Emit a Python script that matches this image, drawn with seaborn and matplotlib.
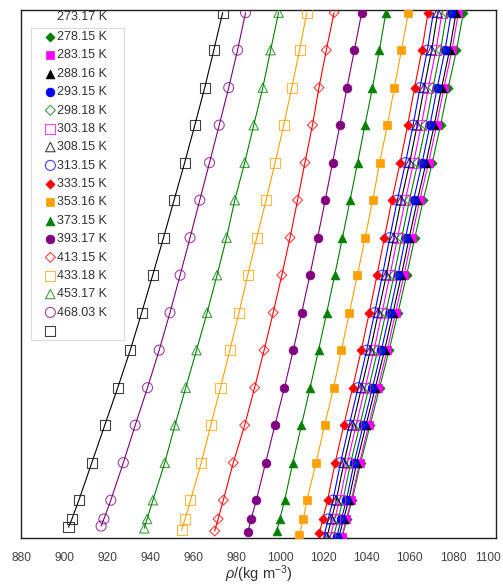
import matplotlib
matplotlib.use("Agg")
import matplotlib.pyplot as plt
import matplotlib.transforms as mtrans
import seaborn as sns
import pandas as pd

# ---------------- data ----------------
temps = ["273.17 K", "278.15 K", "283.15 K", "288.16 K", "293.15 K", "298.18 K",
         "303.18 K", "308.15 K", "313.15 K", "333.15 K", "353.16 K", "373.15 K",
         "393.17 K", "413.15 K", "433.18 K", "453.17 K", "468.03 K"]

# common pressure grid (MPa) above the lowest point of each isotherm
p_grid = [5, 10, 20, 30, 40, 50, 60, 70, 80, 90, 100, 110, 120, 130, 140]
# lowest pressure of each isotherm (MPa)
p_low = [0.1, 0.1, 0.1, 0.1, 0.1, 0.1, 0.1, 0.1, 1.2, 0.7, 1.8, 1.6,
         1.8, 2.0, 2.5, 3.1, 2.8]

rho_27317 = [1028.7, 1031.0, 1033.4, 1037.3, 1041.7, 1046.1, 1050.5, 1054.6, 1058.6, 1062.4, 1066.3, 1070.5, 1074.3, 1077.9, 1081.7, 1084.9]
rho_27815 = [1028.5, 1030.7, 1033.0, 1036.8, 1041.0, 1045.3, 1049.6, 1053.5, 1057.4, 1061.0, 1064.7, 1068.8, 1072.5, 1075.9, 1079.6, 1082.6]
rho_28315 = [1027.2, 1029.4, 1031.8, 1035.5, 1039.8, 1044.1, 1048.4, 1052.3, 1056.2, 1059.8, 1063.6, 1067.6, 1071.4, 1074.8, 1078.5, 1081.5]
rho_28816 = [1026.2, 1028.4, 1030.7, 1034.3, 1038.5, 1042.8, 1046.9, 1050.8, 1054.6, 1058.1, 1061.8, 1065.8, 1069.4, 1072.8, 1076.4, 1079.3]
rho_29315 = [1024.7, 1026.9, 1029.1, 1032.7, 1036.9, 1041.1, 1045.2, 1049.0, 1052.8, 1056.3, 1059.9, 1063.8, 1067.5, 1070.8, 1074.3, 1077.2]
rho_29818 = [1023.2, 1025.3, 1027.6, 1031.2, 1035.2, 1039.4, 1043.5, 1047.2, 1050.9, 1054.4, 1058.0, 1061.8, 1065.4, 1068.7, 1072.2, 1075.0]
rho_30318 = [1021.7, 1023.8, 1026.0, 1029.6, 1033.6, 1037.7, 1041.8, 1045.5, 1049.2, 1052.6, 1056.1, 1060.0, 1063.5, 1066.7, 1070.2, 1073.0]
rho_30815 = [1020.2, 1022.3, 1024.5, 1028.0, 1032.0, 1036.1, 1040.1, 1043.8, 1047.4, 1050.8, 1054.3, 1058.1, 1061.6, 1064.8, 1068.2, 1071.0]
rho_31315 = [1018.2, 1019.8, 1022.0, 1025.5, 1029.5, 1033.6, 1037.6, 1041.3, 1044.9, 1048.3, 1051.8, 1055.6, 1059.1, 1062.3, 1065.7, 1068.5]
rho_33315 = [1008.8, 1010.8, 1012.4, 1016.7, 1020.6, 1024.8, 1028.4, 1032.1, 1035.8, 1039.4, 1042.9, 1046.1, 1049.7, 1052.9, 1056.2, 1059.4]
rho_35316 = [998.5, 999.9, 1002.1, 1005.9, 1009.9, 1013.9, 1017.8, 1021.6, 1025.3, 1028.9, 1032.4, 1035.9, 1039.3, 1042.8, 1046.0, 1049.0]
rho_37315 = [985.1, 986.6, 989.0, 993.3, 997.6, 1002.0, 1006.1, 1010.0, 1013.8, 1017.4, 1020.9, 1024.3, 1027.7, 1031.0, 1034.4, 1037.8]
rho_39317 = [969.7, 971.3, 973.7, 978.3, 983.6, 988.2, 992.6, 996.8, 1000.8, 1004.6, 1008.1, 1011.5, 1015.0, 1018.0, 1021.4, 1025.0]
rho_41315 = [954.4, 956.0, 958.5, 963.5, 967.9, 972.4, 976.7, 981.0, 985.0, 989.2, 993.5, 997.7, 1001.7, 1005.4, 1009.0, 1012.4]
rho_43318 = [937.1, 938.4, 941.1, 946.6, 951.3, 956.3, 961.3, 966.2, 970.8, 975.2, 979.0, 983.6, 987.8, 992.0, 995.6, 999.3]
rho_45317 = [917.1, 918.4, 921.6, 927.4, 932.9, 938.6, 944.0, 949.0, 953.7, 958.3, 962.8, 967.3, 971.8, 976.2, 980.3, 984.0]
rho_46803 = [902.0, 903.6, 906.8, 912.8, 918.8, 924.8, 930.6, 935.9, 941.0, 946.0, 950.9, 955.8, 960.5, 965.1, 969.3, 973.4]

rho_all = [rho_27317, rho_27815, rho_28315, rho_28816, rho_29315, rho_29818,
           rho_30318, rho_30815, rho_31315, rho_33315, rho_35316, rho_37315,
           rho_39317, rho_41315, rho_43318, rho_45317, rho_46803]

x_ticks = [880, 900, 920, 940, 960, 980, 1000, 1020, 1040, 1060, 1080, 1100]

# ---------------- styles ----------------
GREEN, MAG, BLK, BLUE = "#008000", "#FF00FF", "#000000", "#0000FF"
RED, ORA, PUR = "#FF0000", "#FFA000", "#800080"
colors = [GREEN, MAG, BLK, BLUE, GREEN, MAG, BLK, BLUE,
          RED, ORA, GREEN, PUR, RED, ORA, GREEN, PUR, BLK]
markers = ["D", "s", "^", "o"] * 4 + ["s"]
filled = [True] * 4 + [False] * 4 + [True] * 4 + [False] * 4 + [False]
sizes = {"D": 22, "s": 38, "^": 40, "o": 40}
sizes_open = {"D": 26, "s": 52, "^": 46, "o": 52}

frames = []
for t, pl, rho in zip(temps, p_low, rho_all):
    frames.append(pd.DataFrame({"T": t, "P": [pl] + p_grid, "rho": rho}))
df = pd.concat(frames, ignore_index=True)

sns.set_style("white")
plt.rcParams["font.family"] = ["Liberation Sans", "DejaVu Sans"]
plt.rcParams["mathtext.fontset"] = "custom"
plt.rcParams["mathtext.rm"] = "Liberation Sans"
plt.rcParams["mathtext.it"] = "Liberation Sans:italic"

fig = plt.figure(figsize=(5.03, 5.85), dpi=100)
ax = fig.add_axes([21 / 503, 1 - 537.7 / 585, 475 / 503, 527.7 / 585])

for i, t in enumerate(temps):
    sub = df[df["T"] == t]
    c = colors[i]
    m = markers[i]
    sns.lineplot(data=sub, x="rho", y="P", color=c, lw=0.8, sort=False,
                 estimator=None, legend=False, ax=ax, zorder=2)
    if filled[i]:
        sns.scatterplot(data=sub, x="rho", y="P", marker=m, s=sizes[m],
                        color=c, edgecolor=c, linewidth=0.5, ax=ax,
                        label=t, zorder=3)
    else:
        sns.scatterplot(data=sub, x="rho", y="P", marker=m, s=sizes_open[m],
                        facecolors="none", edgecolors=c, linewidth=0.8,
                        alpha=0.75, ax=ax, label=t, zorder=3)

ax.set_xlim(880, 1100)
ax.set_ylim(0, 140.7)
ax.set_xticks(x_ticks)
ax.set_yticks([])
ax.set_ylabel("")
ax.tick_params(axis="x", direction="in", length=4, width=0.8, color="#808080",
               labelsize=8.6, labelcolor="#404040", pad=10)
for s in ax.spines.values():
    s.set_color("#202020")
    s.set_linewidth(1.0)
ax.set_xlabel(r"$\rho$/(kg m$^{-3}$)", fontsize=10.5, color="#303030", labelpad=0)

# keep the last tick label inside the figure, as in the reference
last = ax.get_xticklabels()[-1]
last.set_transform(last.get_transform() +
                   mtrans.ScaledTranslation(-8 / 100, 0, fig.dpi_scale_trans))

handles, labels = ax.get_legend_handles_labels()
leg = ax.legend(handles, labels, loc="upper left", bbox_to_anchor=(0.021, 0.966),
                borderaxespad=0, frameon=True, fancybox=False, fontsize=9,
                handlelength=2.6, handletextpad=-0.75, borderpad=0.25,
                labelspacing=0.51, scatterpoints=1)
leg.get_frame().set_edgecolor("#d0d0d0")
leg.get_frame().set_linewidth(0.8)
# the reference legend has its text column shifted up by one row
txts = leg.get_texts()
for i, tx in enumerate(txts):
    tx.set_text((temps[i + 1] if i + 1 < len(temps) else "") + "    ")
    tx.set_color("#303030")
ax.text((57 - 21) / 475, (537.7 - 17) / 527.7, temps[0], transform=ax.transAxes,
        ha="left", va="center", fontsize=9, color="#303030")

fig.savefig("out.png", dpi=100)
